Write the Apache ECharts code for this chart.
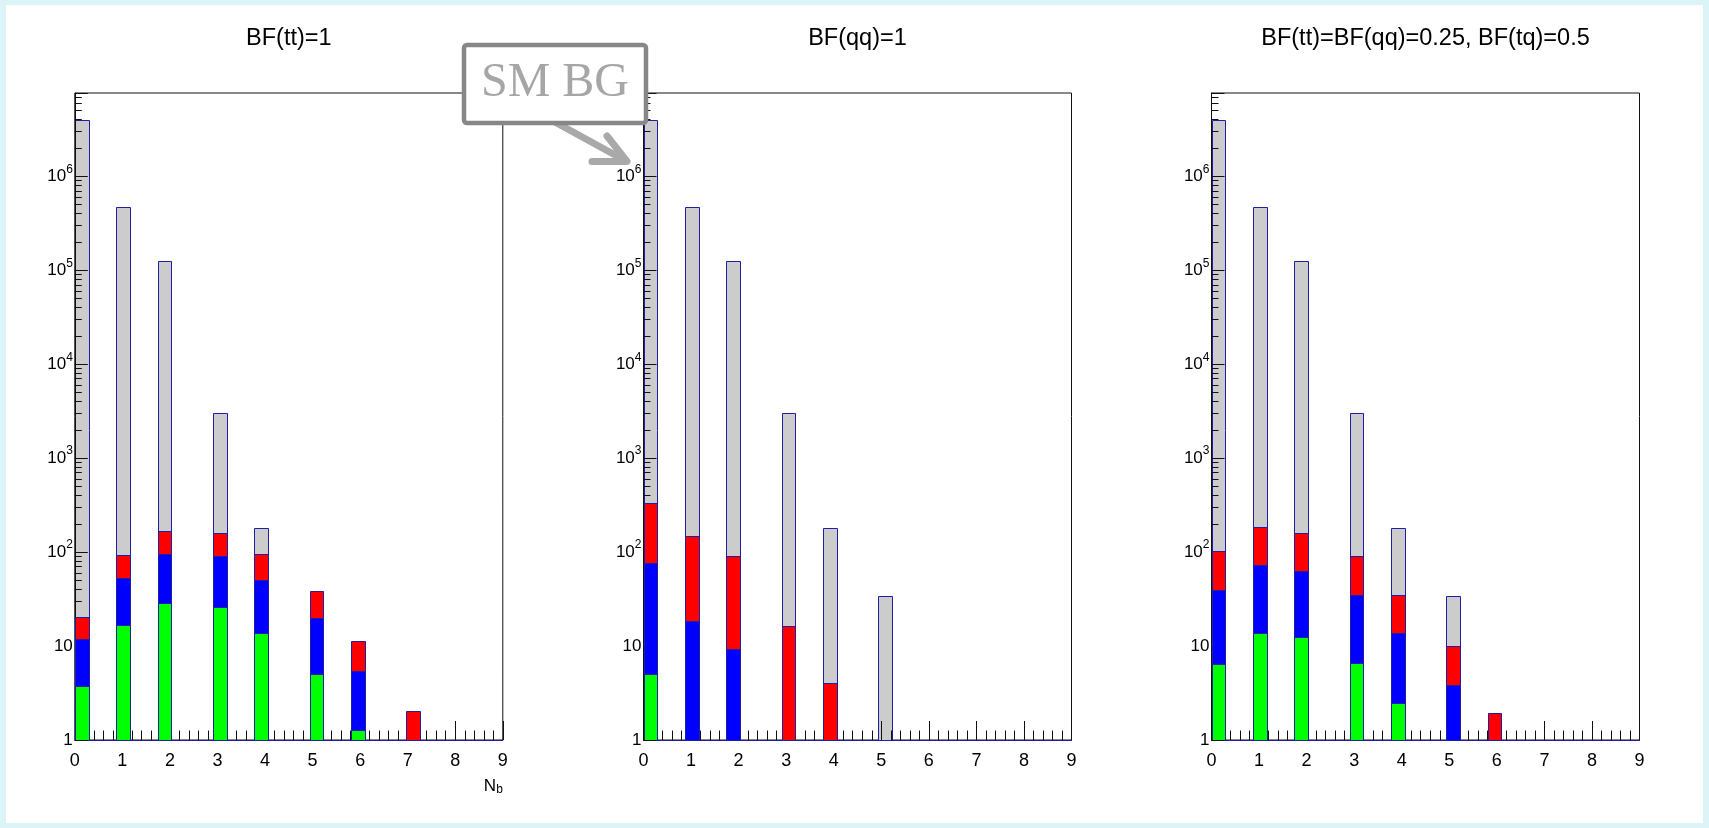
<!DOCTYPE html>
<html>
<head>
<meta charset="utf-8">
<title>N_b distributions</title>
<script src="https://cdn.jsdelivr.net/npm/echarts@6/dist/echarts.min.js"></script>
<style>
  html, body { margin: 0; padding: 0; width: 1709px; height: 828px; overflow: hidden; background: #dcf3f8; }
  #chart { position: absolute; left: 6px; top: 5px; width: 1697px; height: 818px; background: #ffffff; }
</style>
</head>
<body>
<div id="chart"></div>
<script>
// ---- data -------------------------------------------------------------
// number of b-tagged jets filled into each histogram
const nbValues = [0, 1, 2, 3, 4, 5, 6, 7, 8];
const xTickLabels = ['0', '1', '2', '3', '4', '5', '6', '7', '8', '9'];
const yTickLabels = ['1', '10', '10^2', '10^3', '10^4', '10^5', '10^6'];

const panelTitles = ['BF(tt)=1', 'BF(qq)=1', 'BF(tt)=BF(qq)=0.25, BF(tq)=0.5'];

// SM background (identical in every panel, drawn behind the signal stack)
const smBackground = [4.01e6, 4.71e5, 1.26e5, 3060, 180, 34.2, 0, 0, 0];

// signal contributions, stacked bottom to top: green, blue, red
const ttGreen = [3.8, 16.7, 29.0, 26.1, 13.9, 5.0, 1.28, 0, 0];
const ttBlue  = [8.2, 36.8, 66.0, 65.1, 36.7, 14.8, 4.2, 0, 0];
const ttRed   = [8.6, 39.2, 74.0, 68.8, 44.4, 19.1, 5.9, 2.05, 0];

const qqGreen = [5.1, 0, 0, 0, 0, 0, 0, 0, 0];
const qqBlue  = [72.2, 18.5, 9.3, 0, 0, 0, 0, 0, 0];
const qqRed   = [257, 130.5, 81.1, 16.4, 4.08, 0, 0, 0, 0];

const mixGreen = [6.45, 13.8, 12.5, 6.6, 2.5, 0, 0, 0, 0];
const mixBlue  = [32.8, 59.8, 50.1, 28.7, 11.2, 3.83, 0, 0, 0];
const mixRed   = [64.7, 113.4, 97.4, 55.1, 21.3, 6.1, 1.95, 0, 0];

const panelStacks = [
  [ttGreen, ttBlue, ttRed],
  [qqGreen, qqBlue, qqRed],
  [mixGreen, mixBlue, mixRed]
];

// ---- histogram binning and axis ranges ----------------------------------
const X_MIN = 0, X_MAX = 9, NBINS = 31;
const Y_MIN = 1, Y_MAX = 7.7e6;

// ---- style ------------------------------------------------------------
const FONT = '"Liberation Sans", Arial, Helvetica, sans-serif';
const SERIF = '"Liberation Serif", "Times New Roman", serif';
const STACK_COLORS = ['#00ff00', '#0000ff', '#ff0000'];
const BG_COLOR = '#cccccc';
const OUTLINE = '#1f1fa6';
const GRID_LEFT = [68.8, 637.5, 1205.5];
const GRID_TOP = 88, GRID_W = 428, GRID_H = 647;

function binEdges(n) {
  const w = (X_MAX - X_MIN) / NBINS;
  const i = Math.floor((n - X_MIN) / w + 1e-9);
  return [X_MIN + i * w, X_MIN + (i + 1) * w];
}

function renderBox(params, api) {
  const pTop = api.coord([api.value(0), api.value(3)]);
  const pBot = api.coord([api.value(1), api.value(2)]);
  const x0 = Math.round(pTop[0]) + 0.5, x1 = Math.round(pBot[0]) + 0.5;
  const y0 = Math.round(pTop[1]) + 0.5, y1 = Math.round(pBot[1]) + 0.5;
  return {
    type: 'rect',
    shape: { x: x0, y: y0, width: x1 - x0, height: y1 - y0 },
    style: { fill: api.visual('color'), stroke: OUTLINE, lineWidth: 1 }
  };
}

function labelFor(v) {
  const e = Math.log10(v);
  const k = Math.round(e);
  if (Math.abs(e - k) > 1e-6 || k < 0 || k >= yTickLabels.length) return '';
  const t = yTickLabels[k];
  if (t.indexOf('^') < 0) return '{b|' + t + '}';
  const parts = t.split('^');
  return '{b|' + parts[0] + '}{s|' + parts[1] + '}';
}

// minor tick positions (2..9 x 10^k) on a helper axis measured in decades
const minorTickDecades = [];
for (let k = 0; k < yTickLabels.length; k++) {
  for (let m = 2; m <= 9; m++) {
    const d = Math.log10(m * Math.pow(10, k));
    if (d < Math.log10(Y_MAX)) minorTickDecades.push(d);
  }
}

const grids = [], xAxes = [], yAxes = [], series = [];

panelStacks.forEach(function (stack, p) {
  grids.push({
    left: GRID_LEFT[p], top: GRID_TOP, width: GRID_W, height: GRID_H,
    show: true, borderColor: '#111', borderWidth: 1, backgroundColor: 'transparent'
  });

  xAxes.push({
    type: 'value', gridIndex: p, min: X_MIN, max: X_MAX, interval: 1, z: 2,
    axisLine: { show: true, lineStyle: { color: OUTLINE, width: 1 } },
    axisTick: { show: true, inside: true, length: 19, lineStyle: { color: '#111', width: 1 } },
    minorTick: { show: true, splitNumber: 5, length: 9.5, lineStyle: { color: '#111', width: 1 } },
    axisLabel: {
      show: true, margin: 12, fontSize: 18, color: '#000', fontFamily: FONT,
      formatter: function (v) { return xTickLabels[Math.round(v)]; }
    },
    splitLine: { show: false }, minorSplitLine: { show: false }
  });

  // main logarithmic axis: decades, labels
  yAxes.push({
    type: 'log', logBase: 10, gridIndex: p, min: Y_MIN, max: Y_MAX, z: 2,
    axisLine: { show: true, lineStyle: { color: '#111', width: 1 } },
    axisTick: { show: true, inside: true, length: 13, lineStyle: { color: '#111', width: 1 } },
    axisLabel: {
      show: true, margin: 2, color: '#000', fontFamily: FONT,
      formatter: labelFor,
      rich: {
        b: { fontSize: 17, lineHeight: 26, fontFamily: FONT, color: '#000' },
        s: { fontSize: 12, lineHeight: 12, verticalAlign: 'top', fontFamily: FONT, color: '#000' }
      }
    },
    splitLine: { show: false }
  });
  // helper axis in decades carrying the short minor ticks
  yAxes.push({
    type: 'value', gridIndex: p, min: 0, max: Math.log10(Y_MAX), z: 2,
    position: 'left', offset: 0,
    axisLine: { show: false },
    axisTick: { show: true, inside: true, length: 7, customValues: minorTickDecades,
                lineStyle: { color: '#111', width: 1 } },
    axisLabel: { show: false },
    splitLine: { show: false }
  });

  // SM background boxes
  const bgData = [];
  nbValues.forEach(function (n, i) {
    const v = smBackground[i];
    if (v > Y_MIN) {
      const e = binEdges(n);
      bgData.push([e[0], e[1], Y_MIN, v]);
    }
  });
  series.push({
    type: 'custom', name: 'SM BG', xAxisIndex: p, yAxisIndex: 2 * p, z: 1,
    renderItem: renderBox, encode: { x: [0, 1], y: [2, 3] },
    itemStyle: { color: BG_COLOR }, data: bgData, silent: true, clip: true
  });

  // stacked signal boxes
  const cum = nbValues.map(function () { return 0; });
  stack.forEach(function (comp, c) {
    const data = [];
    nbValues.forEach(function (n, i) {
      const v = comp[i];
      const lo = cum[i], hi = cum[i] + v;
      cum[i] = hi;
      if (v > 0 && hi > Y_MIN) {
        const e = binEdges(n);
        data.push([e[0], e[1], Math.max(lo, Y_MIN), hi]);
      }
    });
    series.push({
      type: 'custom', xAxisIndex: p, yAxisIndex: 2 * p, z: 3,
      renderItem: renderBox, encode: { x: [0, 1], y: [2, 3] },
      itemStyle: { color: STACK_COLORS[c] }, data: data, silent: true, clip: true
    });
  });
});

// titles, axis name and the background call-out
const graphics = [];
panelTitles.forEach(function (t, p) {
  graphics.push({
    type: 'text', x: GRID_LEFT[p] + GRID_W / 2, y: 34, z: 10,
    style: { text: t, fontSize: 23.5, fontFamily: FONT, fill: '#000', align: 'center', verticalAlign: 'middle' }
  });
});
graphics.push({
  type: 'text', x: GRID_LEFT[0] + GRID_W, y: 781, z: 10,
  style: {
    text: '{n|N}{s|b}', align: 'right', verticalAlign: 'middle',
    rich: {
      n: { fontSize: 17, lineHeight: 20, fontFamily: FONT, fill: '#000' },
      s: { fontSize: 12, lineHeight: 12, verticalAlign: 'bottom', fontFamily: FONT, fill: '#000' }
    }
  }
});
graphics.push({
  type: 'polyline', z: 20,
  shape: { points: [[547, 116], [620, 156]] },
  style: { stroke: '#a9a9a9', lineWidth: 7, lineCap: 'round', lineJoin: 'round', fill: null }
});
graphics.push({
  type: 'polyline', z: 20,
  shape: { points: [[601, 131], [621, 156.5], [586, 156.5]] },
  style: { stroke: '#a9a9a9', lineWidth: 7, lineCap: 'round', lineJoin: 'round', fill: null }
});
graphics.push({
  type: 'rect', z: 21,
  shape: { x: 458, y: 40, width: 182, height: 78, r: 3 },
  style: { fill: '#ffffff', stroke: '#878787', lineWidth: 4.5 }
});
graphics.push({
  type: 'text', x: 549, y: 78, z: 22,
  style: { text: 'SM BG', fontSize: 48, fontFamily: SERIF, fill: '#a6a6a6', align: 'center', verticalAlign: 'middle' }
});

const chart = echarts.init(document.getElementById('chart'), null, { renderer: 'canvas' });
chart.setOption({
  animation: false,
  backgroundColor: '#ffffff',
  textStyle: { fontFamily: FONT },
  grid: grids,
  xAxis: xAxes,
  yAxis: yAxes,
  series: series,
  graphic: graphics
});
</script>
</body>
</html>
